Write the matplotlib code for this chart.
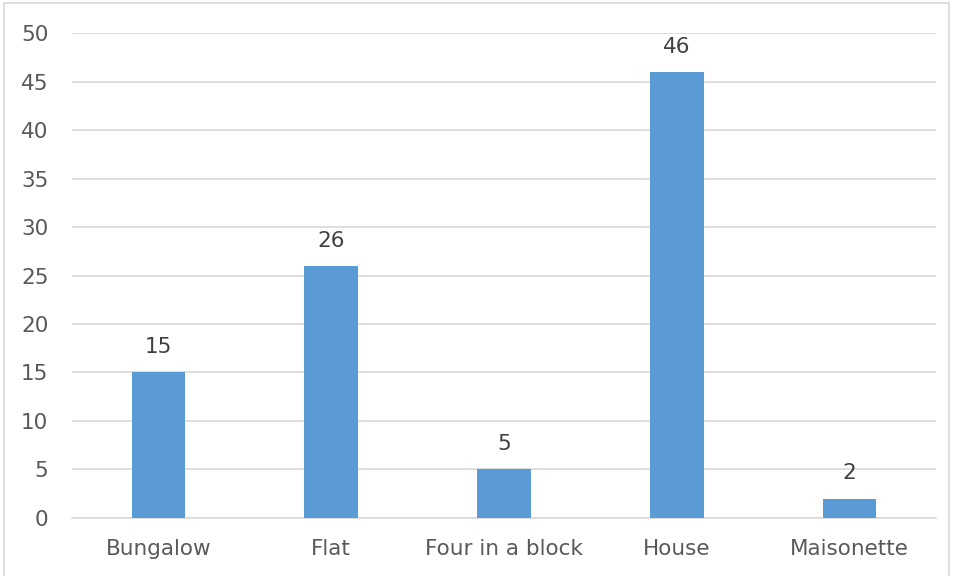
import matplotlib
matplotlib.use('Agg')
import numpy as np
from matplotlib import pyplot as plt
from matplotlib.patches import Rectangle

categories = ['Bungalow', 'Flat', 'Four in a block', 'House', 'Maisonette']
counts = [15, 26, 5, 46, 2]
y_ticks = list(range(0, 55, 5))


def main():
    plt.rcParams['font.family'] = ['DejaVu Sans']
    text_color = '#595959'

    fig = plt.figure(figsize=(9.55, 5.76), dpi=100)
    ax = fig.add_axes([0.0754, 0.1007, 0.9046, 0.842])

    x = np.arange(len(categories))
    ax.bar(x, counts, width=0.31, color='#5B9BD5', zorder=3)
    for xi, v in zip(x, counts):
        ax.text(xi, v + 2.6, str(v), ha='center', va='center',
                fontsize=15.5, color='#404040', zorder=4)

    ax.set_xlim(-0.5, len(categories) - 0.5)
    ax.set_ylim(0, 50)
    ax.set_yticks(y_ticks)
    ax.set_xticks(x)
    ax.set_xticklabels(categories)
    ax.tick_params(axis='both', length=0, labelsize=15.5, colors=text_color)
    ax.tick_params(axis='y', pad=17)
    ax.tick_params(axis='x', pad=15)
    ax.yaxis.grid(True, color='#D9D9D9', linewidth=1.2, zorder=0)
    for side in ['top', 'right', 'left']:
        ax.spines[side].set_visible(False)
    ax.spines['bottom'].set_color('#D9D9D9')
    ax.spines['bottom'].set_linewidth(1.2)

    fig.patches.append(Rectangle((0.004, -0.01), 0.99, 1.005, transform=fig.transFigure,
                                 fill=False, edgecolor='#D9D9D9', linewidth=1.2))

    fig.savefig('out.png', dpi=100)


if __name__ == '__main__':
    main()
